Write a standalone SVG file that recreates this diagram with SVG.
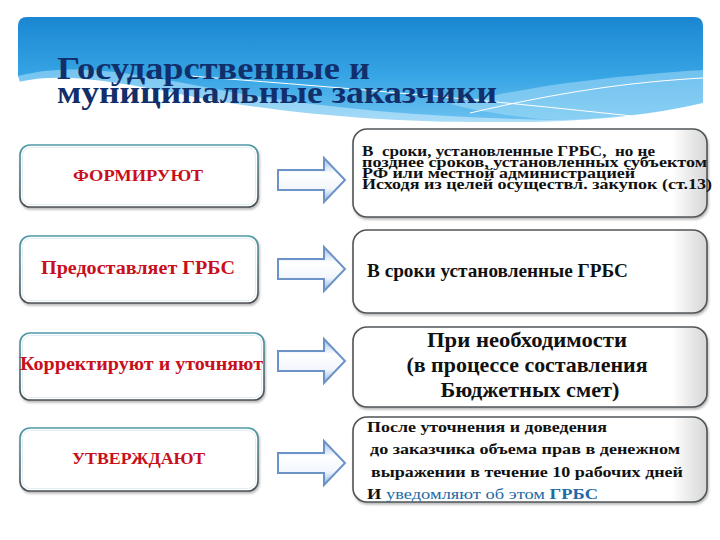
<svg xmlns="http://www.w3.org/2000/svg" width="720" height="540" viewBox="0 0 720 540">
<defs>
  <linearGradient id="bannerG" x1="0" y1="0" x2="0" y2="1">
    <stop offset="0" stop-color="#1a86d2"/>
    <stop offset="0.55" stop-color="#36a4e4"/>
    <stop offset="1" stop-color="#6cc2f0"/>
  </linearGradient>
  <linearGradient id="lightBand" x1="0" y1="0" x2="1" y2="1">
    <stop offset="0" stop-color="#8fd2f6" stop-opacity="0.7"/>
    <stop offset="1" stop-color="#b9e3f9" stop-opacity="0.9"/>
  </linearGradient>
  <linearGradient id="leftStroke" x1="0" y1="0" x2="0" y2="1">
    <stop offset="0" stop-color="#4f9aa9"/>
    <stop offset="1" stop-color="#4a4f55"/>
  </linearGradient>
  <linearGradient id="rightFill" x1="0" y1="0" x2="1" y2="0">
    <stop offset="0" stop-color="#ffffff"/>
    <stop offset="0.9" stop-color="#ffffff"/>
    <stop offset="1" stop-color="#d6d6d6"/>
  </linearGradient>
  <linearGradient id="arrowG" x1="0" y1="0" x2="0" y2="1">
    <stop offset="0" stop-color="#9dbce6"/>
    <stop offset="0.35" stop-color="#ffffff"/>
    <stop offset="0.7" stop-color="#f2f6fc"/>
    <stop offset="1" stop-color="#8aaedc"/>
  </linearGradient>
  <filter id="sh" x="-5%" y="-10%" width="110%" height="125%">
    <feDropShadow dx="1" dy="2" stdDeviation="1.2" flood-color="#666" flood-opacity="0.45"/>
  </filter>
  <path id="arrow" d="M-67,-10 H-21 V-22 L0,0 L-21,22 V10 H-67 Z"/>
  <style>
    .lbox { fill: #ffffff; stroke: url(#leftStroke); stroke-width: 1.6; filter: url(#sh); }
    .lin { fill: none; stroke: #dfeef2; stroke-width: 1; }
    .rbox { fill: url(#rightFill); stroke: #505558; stroke-width: 1.6; filter: url(#sh); }
    .red { font-family: 'Liberation Serif', 'DejaVu Serif', 'Times New Roman', serif; font-weight: bold; fill: #c8101c; }
    .blk { font-family: 'Liberation Serif', 'DejaVu Serif', 'Times New Roman', serif; font-weight: bold; fill: #111111; }
    .title { font-family: 'Liberation Serif', 'DejaVu Serif', 'Times New Roman', serif; font-weight: bold; fill: #112f6b; font-size: 31px; }
    .arr { fill: url(#arrowG); stroke: #6b93c8; stroke-width: 2; stroke-linejoin: miter; }
  </style>
</defs>
<rect width="720" height="540" fill="#ffffff"/>

<g id="header">
  <path d="M18,26 Q18,17 27,17 H694 Q703,17 703,26 V122 H18 Z" fill="url(#bannerG)"/>
  <path d="M18,76 C70,62 130,72 220,90 C330,110 440,118 560,120 C620,118 670,110 703,103 V122 H18 Z" fill="url(#lightBand)"/>
  <path d="M560,84 C620,76 670,72 703,70 V103 C660,112 610,118 560,120 C520,118 480,112 450,104 C490,96 520,90 560,84 Z" fill="#a6dcf8" opacity="0.55"/>
  <path d="M18,82 C60,72 110,80 200,98 C300,116 400,122 470,122 C560,124 640,118 703,103 V125 H18 Z" fill="#ffffff"/>
  <path d="M18,76 L18,125 H40 C30,110 24,95 18,76 Z" fill="#ffffff"/>
  <path d="M190,76 C320,86 450,96 650,118" fill="none" stroke="#ffffff" stroke-width="1"/>
  <path d="M470,113 C560,92 630,82 703,78" fill="none" stroke="#ffffff" stroke-width="1"/>
  <text class="title" x="57" y="79" textLength="313" lengthAdjust="spacingAndGlyphs">Государственные и</text>
  <text class="title" x="57" y="103" textLength="440" lengthAdjust="spacingAndGlyphs">муниципальные заказчики</text>
</g>

<g id="connectors">
  <use href="#arrow" class="arr" transform="translate(345,180)"/>
  <use href="#arrow" class="arr" transform="translate(345,269)"/>
  <use href="#arrow" class="arr" transform="translate(345,361)"/>
  <use href="#arrow" class="arr" transform="translate(345,463)"/>
</g>

<g id="left1">
  <rect class="lbox" x="20" y="145" width="238" height="62" rx="10"/>
  <rect class="lin" x="22.5" y="147.5" width="233" height="57" rx="8"/>
  <text class="red" x="73" y="181" font-size="17" textLength="130" lengthAdjust="spacingAndGlyphs">ФОРМИРУЮТ</text>
</g>
<g id="left2">
  <rect class="lbox" x="20" y="236" width="238" height="67" rx="10"/>
  <rect class="lin" x="22.5" y="238.5" width="233" height="62" rx="8"/>
  <text class="red" x="41" y="274" font-size="18" textLength="194" lengthAdjust="spacingAndGlyphs">Предоставляет ГРБС</text>
</g>
<g id="left3">
  <rect class="lbox" x="20" y="333" width="244" height="67" rx="10"/>
  <rect class="lin" x="22.5" y="335.5" width="239" height="62" rx="8"/>
  <text class="red" x="20" y="370" font-size="18" textLength="243" lengthAdjust="spacingAndGlyphs">Корректируют и уточняют</text>
</g>
<g id="left4">
  <rect class="lbox" x="20" y="428" width="238" height="63" rx="10"/>
  <rect class="lin" x="22.5" y="430.5" width="233" height="58" rx="8"/>
  <text class="red" x="72" y="464" font-size="17" textLength="133" lengthAdjust="spacingAndGlyphs">УТВЕРЖДАЮТ</text>
</g>

<g id="right1">
  <rect class="rbox" x="353" y="129" width="354" height="88" rx="14"/>
  <g class="blk" font-size="14.5">
    <text x="362" y="156" textLength="293" lengthAdjust="spacingAndGlyphs" xml:space="preserve">В  сроки, установленные ГРБС,  но не</text>
    <text x="362" y="167" textLength="345" lengthAdjust="spacingAndGlyphs">позднее сроков, установленных субъектом</text>
    <text x="362" y="178" textLength="273" lengthAdjust="spacingAndGlyphs">РФ или местной администрацией</text>
    <text x="362" y="189" textLength="350" lengthAdjust="spacingAndGlyphs">Исходя из целей осуществл. закупок (ст.13)</text>
  </g>
</g>
<g id="right2">
  <rect class="rbox" x="353" y="230" width="354" height="83" rx="14"/>
  <text class="blk" x="367" y="277" font-size="19" textLength="261" lengthAdjust="spacingAndGlyphs">В сроки установленные ГРБС</text>
</g>
<g id="right3">
  <rect class="rbox" x="353" y="327" width="354" height="80" rx="14"/>
  <g class="blk" font-size="21" text-anchor="middle">
    <text x="527" y="347" textLength="200" lengthAdjust="spacingAndGlyphs">При необходимости</text>
    <text x="527" y="372" textLength="241" lengthAdjust="spacingAndGlyphs">(в процессе составления</text>
    <text x="530" y="397" textLength="179" lengthAdjust="spacingAndGlyphs">Бюджетных смет)</text>
  </g>
</g>
<g id="right4">
  <rect class="rbox" x="353" y="417" width="354" height="85" rx="14"/>
  <g class="blk" font-size="15.5">
    <text x="367" y="432" textLength="240" lengthAdjust="spacingAndGlyphs">После уточнения и доведения</text>
    <text x="370" y="454" textLength="310" lengthAdjust="spacingAndGlyphs">до заказчика объема прав в денежном</text>
    <text x="371" y="477" textLength="312" lengthAdjust="spacingAndGlyphs">выражении в течение 10 рабочих дней</text>
    <text x="367" y="499" textLength="231" lengthAdjust="spacingAndGlyphs">И <tspan fill="#1d6aa5" font-weight="normal">уведомляют об этом </tspan><tspan fill="#1d6aa5">ГРБС</tspan></text>
  </g>
</g>
</svg>
